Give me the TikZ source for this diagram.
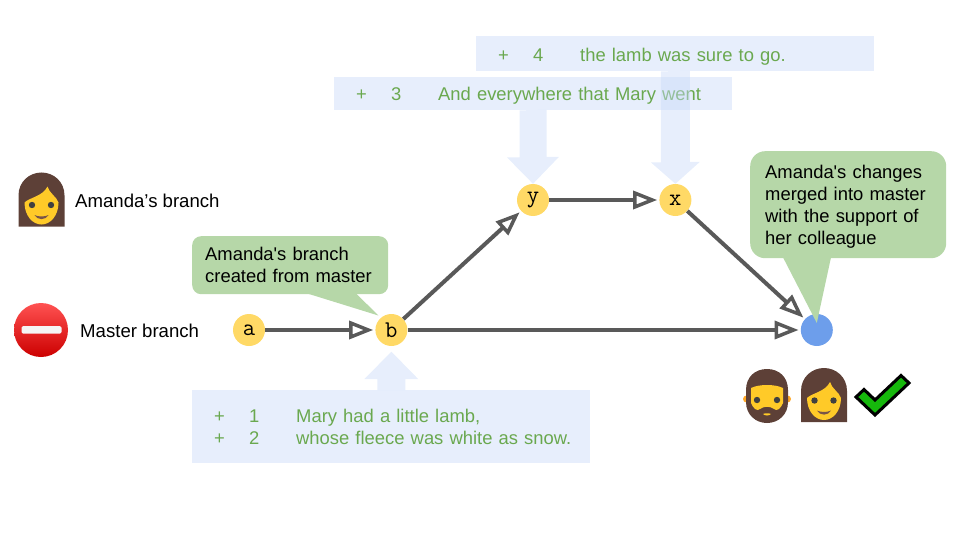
\documentclass[tikz,border=0pt]{standalone}
\usepackage{fontspec}
\setmainfont{Liberation Sans}
\usetikzlibrary{positioning}
\usetikzlibrary{calc}
\usetikzlibrary{arrows.meta}
\definecolor{commityellow}{HTML}{FFD966}
\definecolor{mergeblue}{HTML}{6D9EEB}
\definecolor{bubblegreen}{HTML}{B6D7A8}
\definecolor{hunkblue}{HTML}{C9DAF8}
\definecolor{hunkgreen}{HTML}{6AA84F}
\definecolor{linegray}{HTML}{595959}
\definecolor{hairbrown}{HTML}{5D4037}
\definecolor{skinyellow}{HTML}{FFCA28}
\definecolor{earorange}{HTML}{FFA726}
\definecolor{eyegray}{HTML}{404040}
\definecolor{mouthbrown}{HTML}{795548}
\definecolor{checkgreen}{HTML}{16B80C}
\newcommand{\bodysize}{\fontsize{18.4}{22}\selectfont}
\newcommand{\legendsize}{\fontsize{18.6}{22}\selectfont}
\newcommand{\difflines}[3]{\makebox[35pt][l]{#1}\makebox[47pt][l]{#2}\mbox{#3}}
\tikzset{
    woman/.pic={
        \fill[hairbrown] (-23,27) -- (-23,-4) .. controls (-23,-18) and (-12,-27) .. (0,-27)
            .. controls (12,-27) and (23,-18) .. (23,-4) -- (23,27) -- cycle;
        \fill[skinyellow] (-17,3) .. controls (-12,-2) and (1,-3) .. (6,-13)
            .. controls (8,-6) and (15,-3) .. (17,3)
            .. controls (17,16) and (9,25) .. (0,25)
            .. controls (-9,25) and (-17,16) .. (-17,3) -- cycle;
        \fill[eyegray] (-9.5,5.5) circle (3.2) (9.5,5.5) circle (3.2);
        \fill[mouthbrown] (-7,15.5) .. controls (-3,17.5) and (3,17.5) .. (7,15.5)
            .. controls (4,21) and (-4,21) .. (-7,15.5) -- cycle;
    },
    man/.pic={
        \fill[earorange] (-20.5,3) circle (3.5) (20.5,3) circle (3.5);
        \fill[hairbrown] (-21,-6) .. controls (-21,-19) and (-12,-27) .. (0,-27)
            .. controls (12,-27) and (21,-19) .. (21,-6) -- (21,6)
            .. controls (21,19) and (11,27) .. (0,27)
            .. controls (-11,27) and (-21,19) .. (-21,6) -- cycle;
        \fill[skinyellow] (-16,-8) .. controls (-8,-12) and (8,-12) .. (16,-8) -- (16,7)
            .. controls (14,12) and (10,16) .. (7,13) .. controls (3,10) and (-3,10) .. (-7,13)
            .. controls (-10,16) and (-14,12) .. (-16,7) -- cycle;
        \fill[eyegray] (-10,4) circle (3.2) (10,4) circle (3.2);
        \fill[skinyellow] (-4,18) .. controls (-2,17) and (2,17) .. (4,18)
            .. controls (2,20) and (-2,20) .. (-4,18) -- cycle;
    }
}

\begin{document}
\begin{tikzpicture}[
    x=1pt, y=-1pt,
    commit/.style={circle, fill=commityellow, minimum size=32pt, inner sep=0pt, font={\ttfamily\fontsize{24}{24}\selectfont}},
    bubble/.style={fill=bubblegreen, anchor=north west, align=left, inner ysep=0pt, font=\bodysize},
    bubbletail/.style={fill=bubblegreen},
    hunkbox/.style={fill=hunkblue, fill opacity=0.45, text opacity=1, text=hunkgreen, anchor=north west, align=left, inner xsep=22pt, inner ysep=0pt, text width=354pt, minimum width=398pt, font=\bodysize},
    hunkarrow/.style={fill=hunkblue, fill opacity=0.45},
    flow/.style={draw=linegray, line width=4pt, shorten >=2pt, -{Triangle[open, length=24pt, width=18pt, line width=3.5pt, fill=white]}},
    legend/.style={font=\legendsize, inner sep=0pt}
]
    \useasboundingbox (0,0) rectangle (960,540);

    % commits
    \node[commit] (a) at (249,330) {a};
    \node[commit, right=110pt of a] (b) {b};
    \node[commit] (y) at (533,200) {y};
    \node[commit, right=110pt of y] (x) {x};
    \node[commit, fill=mergeblue, right=393pt of b] (merge) {};

    % diff hunks
    \node[hunkbox, minimum height=33pt] (hunkthree) at (334,77) {\rule{0pt}{17pt}\difflines{+}{3}{And everywhere that Mary went}};
    \fill[hunkarrow] (y.north |- hunkthree.south) ++(-13.5,0) -- ++(0,47) -- ++(-12.5,0) -- (y.north)
        -- ++(26,-27) -- ++(-12.5,0) -- ++(0,-47) -- cycle;
    \node[hunkbox, minimum height=35pt] (hunkfour) at (476,36) {\rule{0pt}{20pt}\difflines{+}{4}{the lamb was sure to go.}};
    \fill[hunkarrow] (x.north |- hunkfour.south) ++(-14.5,0) -- ++(0,91) -- ++(-10,0) -- (x.north)
        -- ++(24.5,-22) -- ++(-10,0) -- ++(0,-91) -- cycle;
    \node[hunkbox, minimum height=73pt] (hunkone) at (192,390) {\difflines{+}{1}{Mary had a little lamb,}\\\difflines{+}{2}{whose fleece was white as snow.}};
    \fill[hunkarrow] (b.south |- hunkone.north) ++(-14,0) -- ++(0,-11) -- ++(-13,0) -- ($(b.south)+(0,5.5)$)
        -- ++(27,27.5) -- ++(-13,0) -- ++(0,11) -- cycle;

    % commit graph
    \draw[flow] (a) -- (b);
    \draw[flow] (b) -- (y);
    \draw[flow] (y) -- (x);
    \draw[flow] (b) -- (merge);
    \draw[flow] (x) -- (merge);

    % speech bubbles
    \node[bubble, rounded corners=9pt, minimum width=196pt, minimum height=58pt, text width=170pt, inner xsep=13pt] (created) at (192,236) {Amanda\textquotesingle s branch\\created from master};
    \fill[bubbletail] ($(created.south west)+(115,-1)$) -- ($(b.135)+(-1.5,-3)$) -- ($(created.south west)+(164,-1)$) -- cycle;
    \node[bubble, rounded corners=15pt, minimum width=196pt, minimum height=107pt, text width=166pt, inner xsep=15pt] (merged) at (750,151) {\rule{0pt}{17pt}Amanda\textquotesingle s changes\\merged into master\\with the support of\\her colleague};
    \fill[bubbletail] ($(merged.south west)+(33,-1)$) -- ($(merge.center)+(0,-7)$) -- ($(merged.south west)+(81,-1)$) -- cycle;

    % legend
    \pic at (41.5,199.5) {woman};
    \coordinate (amandaicon) at (65,200.5);
    \node[legend, right=10pt of amandaicon] (amandalabel) {Amanda’s branch};
    \shade[top color=red!68!white, bottom color=red!80!black] (41,330) circle (27);
    \fill[white!96!black, rounded corners=1.5pt] (21.5,326) rectangle (61.5,333.5);
    \coordinate (mastericon) at (68,330.5);
    \node[legend, right=12pt of mastericon] (masterlabel) {Master branch};

    % reviewers
    \pic at (767,396) {man};
    \pic at (824,395) {woman};
    \draw[fill=checkgreen, line width=3pt, miter limit=10] (856,397) -- (864,389.5) -- (875,400) -- (901,375.5) -- (909,383) -- (875,415) -- cycle;
\end{tikzpicture}
\end{document}
